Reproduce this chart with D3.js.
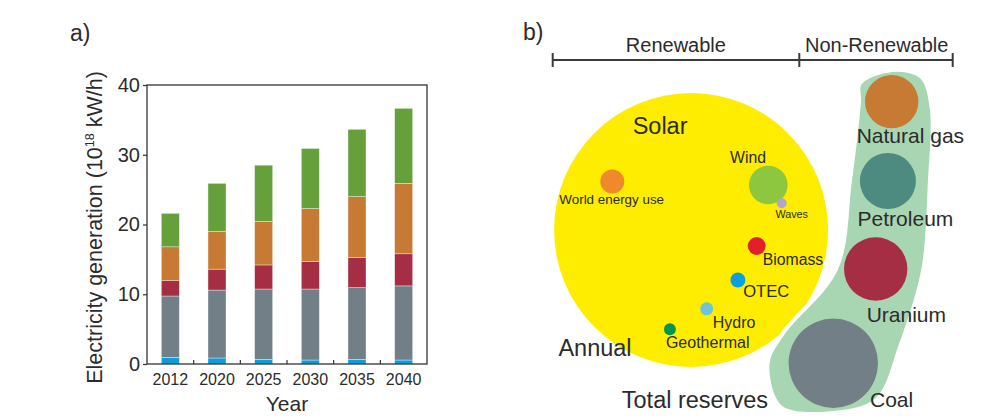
<!DOCTYPE html>
<html>
<head>
<meta charset="utf-8">
<script src="https://cdn.jsdelivr.net/npm/d3@7"></script>
<style>
  html, body { margin: 0; padding: 0; background: #fff; }
  svg { display: block; font-family: "Liberation Sans", Arial, sans-serif; }
  text { fill: #2b2b2b; }
</style>
</head>
<body>
<svg id="chart" width="987" height="419"></svg>
<script>
// ---- Panel a: electricity generation by source (10^18 kW/h) ----
const years = ["2012", "2020", "2025", "2030", "2035", "2040"];
const liquids    = [0.95, 0.86, 0.67, 0.57, 0.67, 0.57];
const coal       = [8.80, 9.74, 10.08, 10.18, 10.28, 10.63];
const nuclear    = [2.20, 3.00, 3.45, 3.95, 4.35, 4.60];
const naturalGas = [4.85, 5.40, 6.25, 7.60, 8.70, 10.10];
const renewables = [4.80, 6.90, 8.05, 8.60, 9.65, 10.75];
const yTicks = [0, 10, 20, 30, 40];

// ---- Panel b: energy resources (relative areas, Solar = 100) ----
const resourceNames = ["Solar", "World energy use", "Wind", "Waves", "Biomass", "OTEC", "Hydro", "Geothermal"];
const resourceSizes = [100, 0.767, 1.98, 0.133, 0.43, 0.30, 0.225, 0.19];
const reserveNames = ["Natural gas", "Petroleum", "Uranium", "Coal"];
const reserveSizes = [3.80, 4.18, 5.35, 10.65];

const svg = d3.select("#chart");
const ink = "#2b2b2b";

// ================= Panel a =================
const plot = { left: 147, right: 427, top: 85, bottom: 364 };
const seriesKeys = ["liquids", "coal", "nuclear", "naturalGas", "renewables"];
const seriesColors = ["#0b9ddc", "#737f86", "#a62e44", "#c77a33", "#65a03a"];
const table = years.map((y, i) => ({
  year: y, liquids: liquids[i], coal: coal[i], nuclear: nuclear[i],
  naturalGas: naturalGas[i], renewables: renewables[i]
}));
const stacked = d3.stack().keys(seriesKeys)(table);

const x = d3.scaleBand().domain(years).range([plot.left, plot.right])
  .paddingInner(0.614).paddingOuter(0.307);
const y = d3.scaleLinear().domain([0, 40]).range([plot.bottom, plot.top]);

const ga = svg.append("g");
ga.selectAll("g.series").data(stacked).join("g")
  .attr("fill", (d, i) => seriesColors[i])
  .selectAll("rect").data(d => d).join("rect")
  .attr("x", d => x(d.data.year))
  .attr("width", x.bandwidth())
  .attr("y", d => y(d[1]))
  .attr("height", d => y(d[0]) - y(d[1]))
  .attr("stroke", "#ffffff").attr("stroke-opacity", 0.6).attr("stroke-width", 0.6);

// frame
ga.append("rect")
  .attr("x", plot.left).attr("y", plot.top)
  .attr("width", plot.right - plot.left).attr("height", plot.bottom - plot.top)
  .attr("fill", "none").attr("stroke", "#333").attr("stroke-width", 1.3);

// y axis
const yAxis = d3.axisLeft(y).tickValues(yTicks).tickSize(4).tickPadding(3);
ga.append("g").attr("transform", `translate(${plot.left},0)`).call(yAxis)
  .call(g => g.select(".domain").remove())
  .call(g => g.selectAll("line").attr("stroke", "#333").attr("stroke-width", 1.2))
  .call(g => g.selectAll("text").attr("font-size", 20).attr("fill", ink)
    .attr("font-family", "'Liberation Sans', Arial, sans-serif"));

// x axis: labels under bars, ticks between bars pointing inwards
const xAxis = d3.axisBottom(x).tickSize(0).tickPadding(10);
ga.append("g").attr("transform", `translate(0,${plot.bottom})`).call(xAxis)
  .call(g => g.select(".domain").remove())
  .call(g => g.selectAll("text").attr("font-size", 16).attr("fill", ink)
    .attr("font-family", "'Liberation Sans', Arial, sans-serif"));
const between = years.slice(1).map(yr => x(yr) - x.step() * x.paddingInner() / 2);
ga.selectAll("line.sep").data(between).join("line")
  .attr("class", "sep")
  .attr("x1", d => d).attr("x2", d => d)
  .attr("y1", plot.bottom).attr("y2", plot.bottom - 4)
  .attr("stroke", "#333").attr("stroke-width", 1.2);

ga.append("text").attr("x", (plot.left + plot.right) / 2).attr("y", 411)
  .attr("text-anchor", "middle").attr("font-size", 21).text("Year");

const yl = ga.append("text")
  .attr("transform", `translate(102,${(plot.top + plot.bottom) / 2 + 3}) rotate(-90)`)
  .attr("text-anchor", "middle").attr("font-size", 21.5);
yl.append("tspan").text("Electricity generation (10");
yl.append("tspan").attr("font-size", 12.5).attr("dy", -8).text("18");
yl.append("tspan").attr("dy", 8).text(" kW/h)");

ga.append("text").attr("x", 70).attr("y", 41).attr("font-size", 23).text("a)");

// ================= Panel b =================
// diagram coordinates: 0..100 across the Renewable / Non-Renewable bracket
const bx = d3.scaleLinear().domain([0, 100]).range([552.7, 952.7]);
const by = d3.scaleLinear().domain([0, 100]).range([60, 460]);
const r = d3.scaleSqrt().domain([0, 100]).range([0, 137]);

const resourceLayout = {
  "Solar":            { cx: 34.6, cy: 42.5, color: "#ffed00", dx: -31,  dy: -96, anchor: "middle", fs: 23.5 },
  "World energy use": { cx: 14.9, cy: 30.4, color: "#f0892b", dx: -0.6, dy: 22.3, anchor: "middle", fs: 13.4 },
  "Wind":             { cx: 53.9, cy: 31.25, color: "#8dc63f", dx: -20.3, dy: -22, anchor: "middle", fs: 15.8 },
  "Waves":            { cx: 57.25, cy: 35.8, color: "#b3a3d3", dx: 10, dy: 15, anchor: "middle", fs: 10.8 },
  "Biomass":          { cx: 51.0, cy: 46.5, color: "#e3202a", dx: 6, dy: 19, anchor: "start", fs: 15.8 },
  "OTEC":             { cx: 46.3, cy: 55.0, color: "#0a9fe0", dx: 5.3, dy: 17.3, anchor: "start", fs: 16.6 },
  "Hydro":            { cx: 38.5, cy: 62.2, color: "#6cc4d6", dx: 6, dy: 19, anchor: "start", fs: 16 },
  "Geothermal":       { cx: 29.3, cy: 67.3, color: "#00954a", dx: -4, dy: 19, anchor: "start", fs: 16 }
};
const reserveLayout = {
  "Natural gas": { cx: 84.75, cy: 10.4,  color: "#c77a33", dx: -35,   dy: 41 },
  "Petroleum":   { cx: 83.8,  cy: 30.25, color: "#4d8a7f", dx: -30.3, dy: 44.7 },
  "Uranium":     { cx: 80.75, cy: 52.25, color: "#a62e44", dx: -9,    dy: 52.7 },
  "Coal":        { cx: 70.15, cy: 75.8,  color: "#737f86", dx: 36.7,  dy: 43.4 }
};

const resources = resourceNames.map((n, i) => ({ name: n, size: resourceSizes[i], ...resourceLayout[n] }));
const reserves = reserveNames.map((n, i) => ({ name: n, size: reserveSizes[i], ...reserveLayout[n] }));

const gb = svg.append("g");

// bracket
const bracketStops = [0, 61.65, 100];
gb.append("line").attr("x1", bx(0)).attr("x2", bx(100)).attr("y1", by(0)).attr("y2", by(0))
  .attr("stroke", "#3a3a3a").attr("stroke-width", 2);
gb.selectAll("line.stop").data(bracketStops).join("line").attr("class", "stop")
  .attr("x1", d => bx(d)).attr("x2", d => bx(d))
  .attr("y1", by(0) - 7).attr("y2", by(0) + 7)
  .attr("stroke", "#3a3a3a").attr("stroke-width", 2);
gb.append("text").attr("x", bx(30.8)).attr("y", 52).attr("text-anchor", "middle")
  .attr("font-size", 20).text("Renewable");
gb.append("text").attr("x", bx(81)).attr("y", 52).attr("text-anchor", "middle")
  .attr("font-size", 20).text("Non-Renewable");

gb.append("text").attr("x", 523).attr("y", 40).attr("font-size", 23).text("b)");

// Solar disc with renewable resources inside
const solar = resources[0];
gb.append("circle").attr("cx", bx(solar.cx)).attr("cy", by(solar.cy)).attr("r", r(solar.size))
  .attr("fill", solar.color);

// outline around the non-renewable reserves, built from padded points on each disc
const outlineSpec = [
  [0, 180, 6], [0, -150, 10], [0, -90, 5], [0, -40, 12], [0, 10, 14],
  [1, 0, 14], [2, 0, 16],
  [3, -15, 25], [3, 40, 12], [3, 90, 5], [3, 140, 24], [3, 180, 21], [3, -150, 14],
  [2, 180, 8], [1, 180, 10]
];
const outlinePts = outlineSpec.map(([k, ang, pad]) => {
  const c = reserves[k];
  const rad = r(c.size) + pad;
  const a = ang * Math.PI / 180;
  return [bx(c.cx) + rad * Math.cos(a), by(c.cy) + rad * Math.sin(a)];
});
gb.append("path")
  .attr("d", d3.line().curve(d3.curveCatmullRomClosed.alpha(0.5))(outlinePts))
  .attr("fill", "#a9d6b2").attr("stroke", "#ffffff").attr("stroke-width", 4);

// discs
gb.selectAll("circle.res").data(resources.slice(1)).join("circle").attr("class", "res")
  .attr("cx", d => bx(d.cx)).attr("cy", d => by(d.cy)).attr("r", d => r(d.size))
  .attr("fill", d => d.color);
gb.selectAll("circle.rsv").data(reserves).join("circle").attr("class", "rsv")
  .attr("cx", d => bx(d.cx)).attr("cy", d => by(d.cy)).attr("r", d => r(d.size))
  .attr("fill", d => d.color);

// labels
gb.selectAll("text.res").data(resources).join("text").attr("class", "res")
  .attr("x", d => bx(d.cx) + d.dx).attr("y", d => by(d.cy) + d.dy)
  .attr("text-anchor", d => d.anchor).attr("font-size", d => d.fs)
  .text(d => d.name);
gb.selectAll("text.rsv").data(reserves).join("text").attr("class", "rsv")
  .attr("x", d => bx(d.cx) + d.dx).attr("y", d => by(d.cy) + d.dy)
  .attr("font-size", 21).text(d => d.name);

gb.append("text").attr("x", bx(solar.cx) - 132.7).attr("y", by(solar.cy) + 126)
  .attr("font-size", 23.5).text("Annual");
gb.append("text").attr("x", bx(solar.cx) - 69.3).attr("y", by(solar.cy) + 178.3)
  .attr("font-size", 23.5).text("Total reserves");
</script>
</body>
</html>
